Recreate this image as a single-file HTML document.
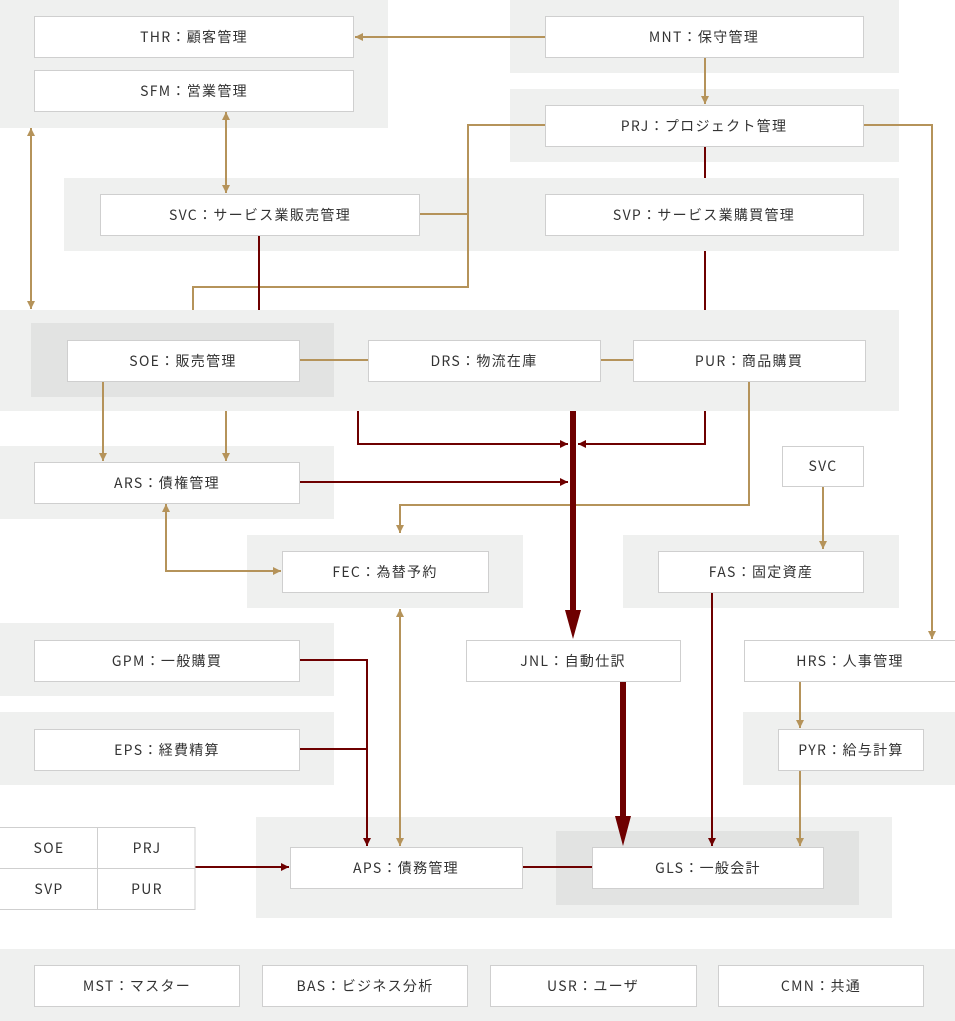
<!DOCTYPE html>
<html><head><meta charset="utf-8"><style>
html,body{margin:0;padding:0;background:#fff}
svg{display:block}
text{font-family:"Noto Sans CJK JP","Liberation Sans",sans-serif;font-size:14px;fill:#333;letter-spacing:1.3px;text-anchor:middle;dominant-baseline:central}
.p{fill:#eff0ef}.pi{fill:#e2e3e2}
.b{fill:#fff;stroke:#cfcfcf;stroke-width:1}
.g{stroke:#b5935a;stroke-width:2;fill:none}
.r{stroke:#6e0000;stroke-width:2;fill:none}
</style></head><body>
<svg width="955" height="1021" viewBox="0 0 955 1021" xmlns="http://www.w3.org/2000/svg">
<defs>
<marker id="ga" viewBox="0 0 10 10" refX="10" refY="5" markerWidth="9" markerHeight="8" markerUnits="userSpaceOnUse" orient="auto-start-reverse"><path d="M0,0L10,5L0,10z" fill="#b5935a"/></marker>
<marker id="ra" viewBox="0 0 10 10" refX="10" refY="5" markerWidth="10" markerHeight="8" markerUnits="userSpaceOnUse" orient="auto-start-reverse"><path d="M0,0L10,5L0,10z" fill="#6e0000"/></marker>
</defs>
<rect class="p" x="0" y="0" width="388" height="128"/>
<rect class="p" x="510" y="0" width="389" height="73"/>
<rect class="p" x="510" y="89" width="389" height="73"/>
<rect class="p" x="64" y="178" width="835" height="73"/>
<rect class="p" x="0" y="310" width="899" height="101"/>
<rect class="pi" x="31" y="323" width="303" height="74"/>
<rect class="p" x="0" y="446" width="334" height="73"/>
<rect class="p" x="247" y="535" width="276" height="73"/>
<rect class="p" x="623" y="535" width="276" height="73"/>
<rect class="p" x="0" y="623" width="334" height="73"/>
<rect class="p" x="0" y="712" width="334" height="73"/>
<rect class="p" x="743" y="712" width="212" height="73"/>
<rect class="p" x="256" y="817" width="636" height="101"/>
<rect class="pi" x="556" y="831" width="303" height="74"/>
<rect class="p" x="0" y="949" width="955" height="72"/>

<line class="g" x1="545" y1="37" x2="355" y2="37" marker-end="url(#ga)"/>
<line class="g" x1="705" y1="57" x2="705" y2="104" marker-end="url(#ga)"/>
<line class="g" x1="226" y1="112" x2="226" y2="193" marker-start="url(#ga)" marker-end="url(#ga)"/>
<line class="g" x1="31" y1="128" x2="31" y2="309" marker-start="url(#ga)" marker-end="url(#ga)"/>
<polyline class="g" points="545,125 468,125 468,287 193,287 193,310"/>
<line class="g" x1="419" y1="214" x2="468" y2="214"/>
<polyline class="g" points="863,125 932,125 932,639" marker-end="url(#ga)"/>
<line class="g" x1="299" y1="360" x2="368" y2="360"/>
<line class="g" x1="600" y1="360" x2="633" y2="360"/>
<line class="g" x1="103" y1="381" x2="103" y2="461" marker-end="url(#ga)"/>
<line class="g" x1="226" y1="411" x2="226" y2="461" marker-end="url(#ga)"/>
<polyline class="g" points="749,381 749,505 400,505 400,533" marker-end="url(#ga)"/>
<polyline class="g" points="166,504 166,571 281,571" marker-start="url(#ga)" marker-end="url(#ga)"/>
<line class="g" x1="823" y1="486" x2="823" y2="549" marker-end="url(#ga)"/>
<line class="g" x1="400" y1="609" x2="400" y2="846" marker-start="url(#ga)" marker-end="url(#ga)"/>
<line class="g" x1="800" y1="681" x2="800" y2="728" marker-end="url(#ga)"/>
<line class="g" x1="800" y1="770" x2="800" y2="846" marker-end="url(#ga)"/>

<line class="r" x1="705" y1="146" x2="705" y2="178"/>
<line class="r" x1="705" y1="251" x2="705" y2="310"/>
<line class="r" x1="259" y1="235" x2="259" y2="310"/>
<polyline class="r" points="358,411 358,444 568,444" marker-end="url(#ra)"/>
<polyline class="r" points="705,411 705,444 578,444" marker-end="url(#ra)"/>
<line class="r" x1="299" y1="482" x2="568" y2="482" marker-end="url(#ra)"/>
<line x1="573" y1="411" x2="573" y2="612" stroke="#6e0000" stroke-width="6"/>
<path d="M565,610L581,610L573,639z" fill="#6e0000"/>
<polyline class="r" points="299,660 367,660 367,846" marker-end="url(#ra)"/>
<line class="r" x1="299" y1="749" x2="367" y2="749"/>
<line class="r" x1="195" y1="867" x2="289" y2="867" marker-end="url(#ra)"/>
<line class="r" x1="522" y1="867" x2="592" y2="867"/>
<line x1="623" y1="681" x2="623" y2="818" stroke="#6e0000" stroke-width="6"/>
<path d="M615,816L631,816L623,846z" fill="#6e0000"/>
<line class="r" x1="712" y1="592" x2="712" y2="846" marker-end="url(#ra)"/>

<rect class="b" x="34.5" y="16.5" width="319" height="41"/><text x="194" y="37">THR：顧客管理</text>
<rect class="b" x="34.5" y="70.5" width="319" height="41"/><text x="194" y="91">SFM：営業管理</text>
<rect class="b" x="545.5" y="16.5" width="318" height="41"/><text x="704" y="37">MNT：保守管理</text>
<rect class="b" x="545.5" y="105.5" width="318" height="41"/><text x="704" y="126">PRJ：プロジェクト管理</text>
<rect class="b" x="100.5" y="194.5" width="319" height="41"/><text x="260" y="215">SVC：サービス業販売管理</text>
<rect class="b" x="545.5" y="194.5" width="318" height="41"/><text x="704" y="215">SVP：サービス業購買管理</text>
<rect class="b" x="67.5" y="340.5" width="232" height="41"/><text x="183" y="361">SOE：販売管理</text>
<rect class="b" x="368.5" y="340.5" width="232" height="41"/><text x="484" y="361">DRS：物流在庫</text>
<rect class="b" x="633.5" y="340.5" width="232" height="41"/><text x="749" y="361">PUR：商品購買</text>
<rect class="b" x="34.5" y="462.5" width="265" height="41"/><text x="167" y="483">ARS：債権管理</text>
<rect class="b" x="782.5" y="446.5" width="81" height="40"/><text x="823" y="466">SVC</text>
<rect class="b" x="282.5" y="551.5" width="206" height="41"/><text x="385" y="572">FEC：為替予約</text>
<rect class="b" x="658.5" y="551.5" width="205" height="41"/><text x="761" y="572">FAS：固定資産</text>
<rect class="b" x="34.5" y="640.5" width="265" height="41"/><text x="167" y="661">GPM：一般購買</text>
<rect class="b" x="466.5" y="640.5" width="214" height="41"/><text x="573" y="661">JNL：自動仕訳</text>
<rect class="b" x="744.5" y="640.5" width="215" height="41"/><text x="850" y="661">HRS：人事管理</text>
<rect class="b" x="34.5" y="729.5" width="265" height="41"/><text x="167" y="750">EPS：経費精算</text>
<rect class="b" x="778.5" y="729.5" width="145" height="41"/><text x="851" y="750">PYR：給与計算</text>
<rect class="b" x="-1" y="827.5" width="196" height="82"/>
<line x1="97.5" y1="827" x2="97.5" y2="909" stroke="#cfcfcf"/>
<line x1="0" y1="868.5" x2="195" y2="868.5" stroke="#cfcfcf"/>
<text x="49" y="848">SOE</text><text x="147" y="848">PRJ</text>
<text x="49" y="889">SVP</text><text x="147" y="889">PUR</text>
<rect class="b" x="290.5" y="847.5" width="232" height="41"/><text x="406" y="868">APS：債務管理</text>
<rect class="b" x="592.5" y="847.5" width="231" height="41"/><text x="708" y="868">GLS：一般会計</text>
<rect class="b" x="34.5" y="965.5" width="205" height="41"/><text x="137" y="986">MST：マスター</text>
<rect class="b" x="262.5" y="965.5" width="205" height="41"/><text x="365" y="986">BAS：ビジネス分析</text>
<rect class="b" x="490.5" y="965.5" width="206" height="41"/><text x="593" y="986">USR：ユーザ</text>
<rect class="b" x="718.5" y="965.5" width="205" height="41"/><text x="821" y="986">CMN：共通</text>
</svg>
</body></html>
